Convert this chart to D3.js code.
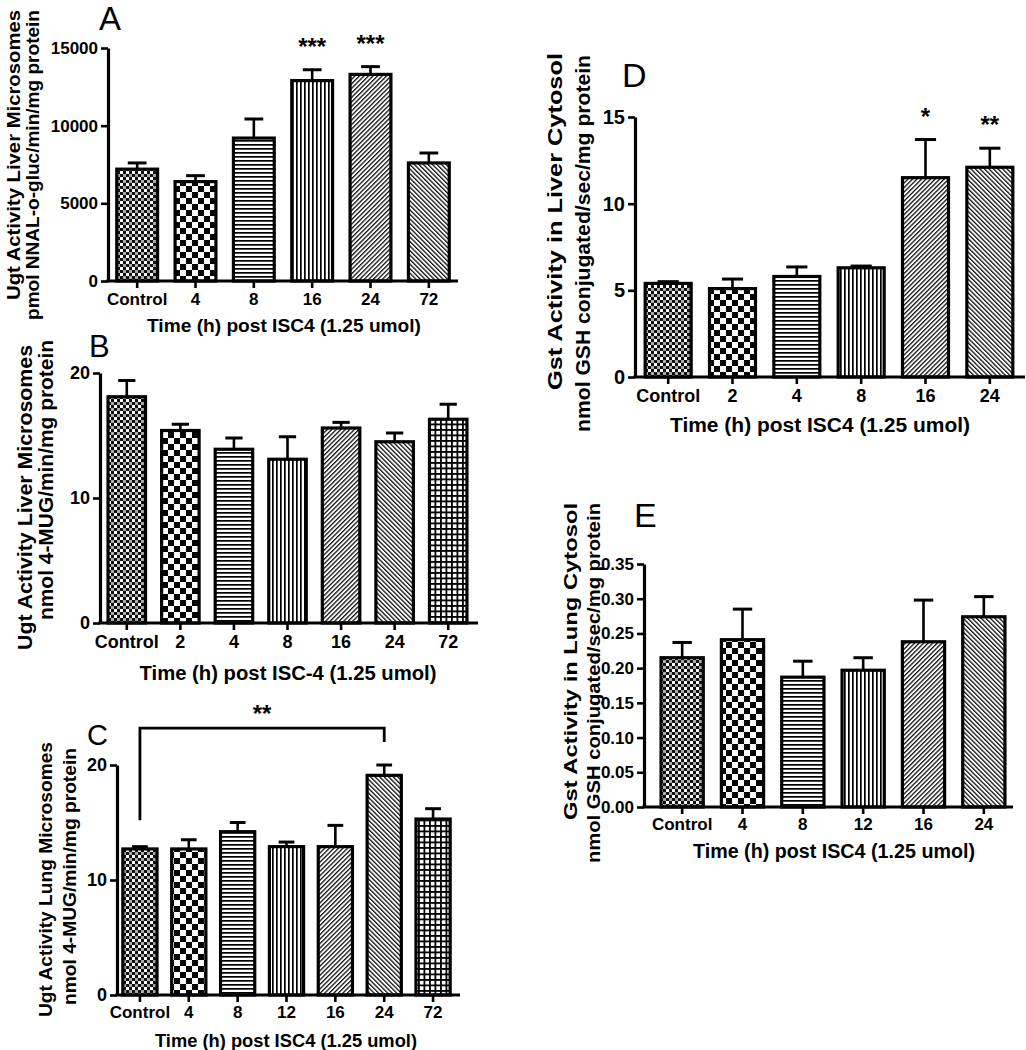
<!DOCTYPE html>
<html><head><meta charset="utf-8">
<script src="https://cdn.jsdelivr.net/npm/d3@7"></script>
<style>
body{margin:0;background:#fff}
svg{display:block}
text{font-family:"Liberation Sans",Arial,Helvetica,sans-serif;font-weight:bold;fill:#000}
</style>
</head><body>
<svg id="chart" width="1026" height="1050"></svg>
<script>
// ---------------- DATA ----------------
const catsA = ["Control","4","8","16","24","72"];
const valsA = [7200, 6400, 9200, 12900, 13300, 7600];
const errA  = [400, 380, 1230, 700, 500, 640];
const starsA = ["", "", "", "***", "***", ""];
const ticksA = [0, 5000, 10000, 15000];

const catsB = ["Control","2","4","8","16","24","72"];
const valsB = [18.1, 15.4, 13.9, 13.1, 15.6, 14.5, 16.3];
const errB  = [1.3, 0.5, 0.9, 1.8, 0.45, 0.7, 1.2];
const ticksB = [0, 10, 20];

const catsC = ["Control","4","8","12","16","24","72"];
const valsC = [12.7, 12.7, 14.2, 12.9, 12.9, 19.1, 15.3];
const errC  = [0.2, 0.8, 0.8, 0.4, 1.85, 0.9, 0.9];
const ticksC = [0, 10, 20];
const bracketC = {from: 0, to: 5, top: 23.2, leftEnd: 15.2, rightEnd: 22, label: "**"};

const catsD = ["Control","2","4","8","16","24"];
const valsD = [5.4, 5.1, 5.8, 6.3, 11.5, 12.1];
const errD  = [0.1, 0.55, 0.55, 0.1, 2.2, 1.1];
const starsD = ["", "", "", "", "*", "**"];
const ticksD = [0, 5, 10, 15];

const catsE = ["Control","4","8","12","16","24"];
const valsE = [0.215, 0.241, 0.187, 0.197, 0.238, 0.274];
const errE  = [0.022, 0.044, 0.023, 0.018, 0.060, 0.029];
const ticksE = [0, 0.05, 0.10, 0.15, 0.20, 0.25, 0.30, 0.35];

// ---------------- PATTERNS ----------------
const svg = d3.select("#chart");
svg.append("rect").attr("width",1026).attr("height",1050).attr("fill","#fff");
const defs = svg.append("defs");
function pat(id, w, h, build, transform){
  const p = defs.append("pattern").attr("id", id).attr("patternUnits","userSpaceOnUse")
    .attr("width", w).attr("height", h);
  if (transform) p.attr("patternTransform", transform);
  p.append("rect").attr("width", w).attr("height", h).attr("fill", "#fff");
  build(p);
}
pat("p0", 6, 6, p => { p.append("rect").attr("width",3).attr("height",3).attr("fill","#111");
  p.append("rect").attr("x",3).attr("y",3).attr("width",3).attr("height",3).attr("fill","#111");
  p.append("rect").attr("x",3).attr("width",3).attr("height",3).attr("fill","#aaa");});
pat("p1", 12, 12, p => { p.append("rect").attr("width",6).attr("height",6).attr("fill","#000");
  p.append("rect").attr("x",6).attr("y",6).attr("width",6).attr("height",6).attr("fill","#000");});
pat("p2", 4, 4, p => p.append("rect").attr("width",4).attr("height",1.7).attr("fill","#000"));
pat("p3", 4, 4, p => p.append("rect").attr("width",1.7).attr("height",4).attr("fill","#000"));
pat("p4", 3.2, 3.2, p => p.append("rect").attr("width",1.3).attr("height",3.2).attr("fill","#111"), "rotate(45)");
pat("p5", 3.2, 3.2, p => p.append("rect").attr("width",1.3).attr("height",3.2).attr("fill","#111"), "rotate(-45)");
pat("p6", 5.5, 5.5, p => { p.append("rect").attr("width",5.5).attr("height",1.8).attr("fill","#000");
  p.append("rect").attr("width",1.8).attr("height",5.5).attr("fill","#000");});

// ---------------- PANEL DRAWER ----------------
function panel(cfg){
  const g = svg.append("g");
  const y = d3.scaleLinear().domain([0, cfg.ticks[cfg.ticks.length-1]]).range([cfg.yBot, cfg.yTop]);
  const x = d3.scaleBand().domain(cfg.cats).range(cfg.band).paddingInner(cfg.pad).paddingOuter(cfg.pad/2);
  const bw = x.bandwidth();
  const rows = cfg.cats.map((c,i)=>({c, v: cfg.vals[i], e: cfg.errs[i], i, s: cfg.stars ? cfg.stars[i] : ""}));

  // bars
  g.selectAll("rect.bar").data(rows).join("rect").attr("class","bar")
    .attr("x", d => x(d.c)).attr("width", bw)
    .attr("y", d => y(d.v)).attr("height", d => cfg.yBot - y(d.v))
    .attr("fill", d => `url(#p${d.i})`).attr("stroke","#000").attr("stroke-width",3.2);

  // error bars (upper only)
  const eb = g.selectAll("g.err").data(rows).join("g").attr("class","err");
  eb.append("line").attr("x1", d => x(d.c)+bw/2).attr("x2", d => x(d.c)+bw/2)
    .attr("y1", d => y(d.v)).attr("y2", d => y(d.v+d.e)).attr("stroke","#000").attr("stroke-width",2.6);
  eb.append("line").attr("x1", d => x(d.c)+bw/2-bw*0.23).attr("x2", d => x(d.c)+bw/2+bw*0.23)
    .attr("y1", d => y(d.v+d.e)).attr("y2", d => y(d.v+d.e)).attr("stroke","#000").attr("stroke-width",3);

  // stars
  g.selectAll("text.star").data(rows.filter(d=>d.s)).join("text").attr("class","star")
    .attr("x", d => x(d.c)+bw/2).attr("y", d => y(d.v+d.e) - 29 + 14)
    .attr("text-anchor","middle").style("font-size","24px").text(d => d.s);

  // y axis
  const ya = g.append("g").attr("transform",`translate(${cfg.x0},0)`)
    .call(d3.axisLeft(y).tickValues(cfg.ticks).tickFormat(cfg.fmt).tickSize(7).tickSizeOuter(0).tickPadding(3));
  ya.attr("font-family",null).attr("font-size",null);
  ya.select(".domain").attr("stroke-width",3.2).attr("stroke","#000");
  ya.selectAll(".tick line").attr("stroke-width",2.6).attr("stroke","#000");
  ya.selectAll(".tick text").style("font-size", cfg.yfs+"px");

  // x axis
  const xa = g.append("g").attr("transform",`translate(0,${cfg.yBot})`)
    .call(d3.axisBottom(x).tickSize(7).tickSizeOuter(0).tickPadding(cfg.xpad));
  xa.attr("font-family",null).attr("font-size",null);
  xa.select(".domain").remove();
  xa.selectAll(".tick line").attr("stroke-width",2.6).attr("stroke","#000");
  xa.selectAll(".tick text").style("font-size", cfg.tfs+"px");
  g.append("line").attr("x1", cfg.x0-1.6).attr("x2", cfg.axisEnd).attr("y1", cfg.yBot).attr("y2", cfg.yBot)
    .attr("stroke","#000").attr("stroke-width",3.2);

  // x title
  g.append("text").attr("x", cfg.xt.x).attr("y", cfg.xt.y).attr("text-anchor","middle")
    .attr("textLength", cfg.xt.len).attr("lengthAdjust","spacingAndGlyphs")
    .style("font-size", cfg.xt.fs+"px").text(cfg.xt.text);

  // y title lines
  cfg.yt.forEach(t => {
    g.append("text").attr("transform",`translate(${t.x},${t.top}) rotate(-90)`)
      .attr("text-anchor","end").attr("dominant-baseline","central")
      .attr("textLength", t.len).attr("lengthAdjust","spacingAndGlyphs")
      .style("font-size", t.fs+"px").text(t.text);
  });

  // panel letter
  g.append("text").attr("x", cfg.letter.x).attr("y", cfg.letter.y)
    .style("font-weight","normal").style("font-size", cfg.letter.fs+"px").text(cfg.letter.text);

  // bracket
  if (cfg.bracket){
    const b = cfg.bracket;
    const xl = x(cfg.cats[b.from])+bw/2, xr = x(cfg.cats[b.to])+bw/2;
    g.append("path").attr("d", d3.line()([[xl, y(b.leftEnd)],[xl, y(b.top)],[xr, y(b.top)],[xr, y(b.rightEnd)]]))
      .attr("fill","none").attr("stroke","#000").attr("stroke-width",2.8);
    g.append("text").attr("x",(xl+xr)/2).attr("y", y(b.top) - 20 + 14).attr("text-anchor","middle")
      .style("font-size","24px").text(b.label);
  }
  return {x, y};
}

const fmtInt = d3.format("d");

panel({cats: catsA, vals: valsA, errs: errA, stars: starsA, ticks: ticksA, fmt: fmtInt,
  x0: 108, yTop: 48, yBot: 281, band: [108, 458], axisEnd: 458, pad: 0.3, tfs: 17, yfs: 17, xpad: 5,
  xt: {text: "Time (h) post ISC4 (1.25 umol)", x: 284, y: 332, len: 274, fs: 19},
  yt: [{text: "Ugt Activity Liver Microsomes", x: 13, top: 10, len: 290, fs: 19},
       {text: "pmol NNAL-o-gluc/min/mg protein", x: 32, top: 10, len: 310, fs: 19}],
  letter: {text: "A", x: 99, y: 30, fs: 33}});

panel({cats: catsB, vals: valsB, errs: errB, ticks: ticksB, fmt: fmtInt,
  x0: 100, yTop: 373, yBot: 623, band: [100, 475], axisEnd: 478, pad: 0.3, tfs: 18, yfs: 18, xpad: 5,
  xt: {text: "Time (h) post ISC-4 (1.25 umol)", x: 288, y: 680, len: 297, fs: 20},
  yt: [{text: "Ugt Activity Liver Microsomes", x: 25, top: 345, len: 305, fs: 20},
       {text: "nmol 4-MUG/min/mg protein", x: 46, top: 340, len: 280, fs: 20}],
  letter: {text: "B", x: 89, y: 357, fs: 31}});

panel({cats: catsC, vals: valsC, errs: errC, ticks: ticksC, fmt: fmtInt, bracket: bracketC,
  x0: 117, yTop: 765, yBot: 995, band: [115.5, 457.5], axisEnd: 460, pad: 0.3, tfs: 17, yfs: 18, xpad: 4,
  xt: {text: "Time (h) post ISC4 (1.25 umol)", x: 286, y: 1047, len: 262, fs: 18},
  yt: [{text: "Ugt Activity Lung Microsomes", x: 45, top: 742, len: 275, fs: 19},
       {text: "nmol 4-MUG/min/mg protein", x: 69, top: 748, len: 257, fs: 19}],
  letter: {text: "C", x: 87, y: 745, fs: 29}});

panel({cats: catsD, vals: valsD, errs: errD, stars: starsD, ticks: ticksD, fmt: fmtInt,
  x0: 635, yTop: 117, yBot: 377, band: [636, 1022], axisEnd: 1025, pad: 0.285, tfs: 18, yfs: 20, xpad: 5,
  xt: {text: "Time (h) post ISC4 (1.25 umol)", x: 820, y: 432, len: 300, fs: 20},
  yt: [{text: "Gst Activity in Liver Cytosol", x: 555, top: 53, len: 337, fs: 20},
       {text: "nmol GSH conjugated/sec/mg protein", x: 583, top: 55, len: 377, fs: 20}],
  letter: {text: "D", x: 622, y: 87, fs: 34}});

panel({cats: catsE, vals: valsE, errs: errE, ticks: ticksE, fmt: d3.format(".2f"),
  x0: 644, yTop: 564, yBot: 807, band: [652, 1014], axisEnd: 1013, pad: 0.3, tfs: 17, yfs: 17, xpad: 4,
  xt: {text: "Time (h) post ISC4 (1.25 umol)", x: 834, y: 858, len: 282, fs: 20},
  yt: [{text: "Gst Activity in Lung Cytosol", x: 570, top: 503, len: 317, fs: 19},
       {text: "nmol GSH conjugated/sec/mg protein", x: 593, top: 503, len: 360, fs: 19}],
  letter: {text: "E", x: 634, y: 527, fs: 34}});
</script>
</body></html>
